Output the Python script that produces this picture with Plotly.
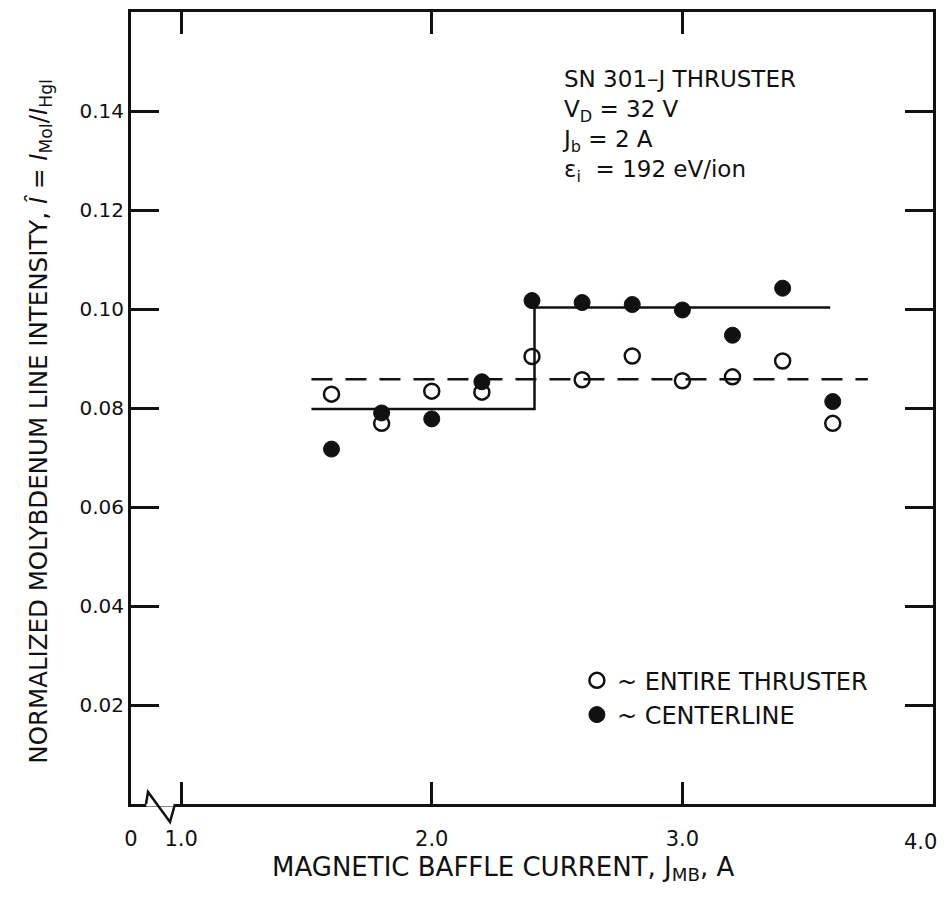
import plotly.graph_objects as go

# ---- data ----
baffle_current = [1.6, 1.8, 2.0, 2.2, 2.4, 2.6, 2.8, 3.0, 3.2, 3.4, 3.6]
entire_thruster = [0.0828, 0.0769, 0.0834, 0.0832, 0.0904, 0.0857, 0.0905, 0.0855, 0.0863, 0.0895, 0.0769]
centerline = [0.0717, 0.0790, 0.0778, 0.0853, 0.1017, 0.1013, 0.1009, 0.0998, 0.0947, 0.1042, 0.0813]

step_x = [1.52, 2.41, 2.41, 3.59]
step_y = [0.0798, 0.0798, 0.1003, 0.1003]
dash_x = [1.52, 3.74]
dash_y = [0.0858, 0.0858]

x_tickvals = [0.8, 1.0, 2.0, 3.0, 4.0]
x_ticktext = ["0", "1.0", "2.0", "3.0", "4.0"]
y_tickvals = [0.02, 0.04, 0.06, 0.08, 0.10, 0.12, 0.14]
y_ticktext = ["0.02", "0.04", "0.06", "0.08", "0.10", "0.12", "0.14"]

info_lines = ["SN 301–J THRUSTER",
              "V<sub>D</sub> = 32 V",
              "J<sub>b</sub> = 2 A",
              "ε<sub>i</sub>  = 192 eV/ion"]
x_title = "MAGNETIC BAFFLE CURRENT, J<sub>MB</sub>, A"
y_title = "NORMALIZED MOLYBDENUM LINE INTENSITY, <i>Î</i> = <i>I</i><sub>MoI</sub>/<i>I</i><sub>HgI</sub>"

FONT = "DejaVu Sans"
BLACK = "#111111"

fig = go.Figure()

fig.add_trace(go.Scatter(x=step_x, y=step_y, mode="lines",
                         line=dict(color=BLACK, width=2.5), showlegend=False, hoverinfo="skip"))
fig.add_trace(go.Scatter(x=dash_x, y=dash_y, mode="lines",
                         line=dict(color=BLACK, width=2.5, dash="21px,13px"), showlegend=False, hoverinfo="skip"))
fig.add_trace(go.Scatter(x=baffle_current, y=entire_thruster, mode="markers",
                         name="~ ENTIRE THRUSTER", legendgroup="a",
                         marker=dict(symbol="circle-open", size=15, color=BLACK, line=dict(width=2.5, color=BLACK))))
fig.add_trace(go.Scatter(x=baffle_current, y=centerline, mode="markers",
                         name="~ CENTERLINE", legendgroup="b",
                         marker=dict(symbol="circle", size=16, color=BLACK, line=dict(width=1, color=BLACK))))

# axis break (zig-zag) near the origin, drawn in paper coordinates
fig.add_shape(type="line", xref="paper", yref="paper", x0=0.019, x1=0.054, y0=0, y1=0,
              line=dict(color="white", width=5), layer="above")
fig.add_shape(type="path", xref="paper", yref="paper",
              path="M 0.0187 0 L 0.0212 0.0152 L 0.0486 -0.0227 L 0.0549 0",
              line=dict(color=BLACK, width=2.5), layer="above")

# info block
fig.add_annotation(xref="paper", yref="paper", x=0.535, y=0.934, xanchor="left", yanchor="top",
                   align="left", showarrow=False, text="<br>".join(info_lines),
                   font=dict(family=FONT, size=23, color=BLACK))

# last x tick label sits just inside the right edge in the reference
fig.add_annotation(xref="x", yref="paper", x=4.0, y=0, xanchor="right", yanchor="top", yshift=-24,
                   xshift=6, showarrow=False, text=x_ticktext[-1],
                   font=dict(family=FONT, size=21, color=BLACK))

# axis titles
fig.add_annotation(xref="paper", yref="paper", x=0.4638, y=-0.082, xanchor="center", yanchor="middle",
                   showarrow=False, text=x_title, font=dict(family=FONT, size=26, color=BLACK))
fig.add_annotation(xref="paper", yref="paper", x=-0.1135, y=0.484, xanchor="center", yanchor="middle",
                   textangle=-90, showarrow=False, text=y_title,
                   font=dict(family=FONT, size=24.5, color=BLACK))

fig.update_layout(
    width=948, height=905,
    margin=dict(l=131, r=15, t=12, b=101, autoexpand=False),
    paper_bgcolor="white", plot_bgcolor="white",
    font=dict(family=FONT, color=BLACK),
    legend=dict(x=0.556, y=0.184, xanchor="left", yanchor="top",
                font=dict(family=FONT, size=24, color=BLACK),
                bgcolor="rgba(0,0,0,0)", tracegroupgap=0, traceorder="grouped"),
    xaxis=dict(
        range=[0.8, 4.0], showgrid=False, zeroline=False, automargin=False,
        showline=True, linewidth=3, linecolor=BLACK, mirror="allticks",
        ticks="inside", ticklen=22, tickwidth=2.5, tickcolor=BLACK,
        tickvals=x_tickvals, ticktext=x_ticktext[:-1] + [""], ticklabelstandoff=14,
        tickfont=dict(family=FONT, size=21, color=BLACK),
    ),
    yaxis=dict(
        range=[0, 0.16], showgrid=False, zeroline=False, automargin=False,
        showline=True, linewidth=3, linecolor=BLACK, mirror="allticks",
        ticks="inside", ticklen=28, tickwidth=2.5, tickcolor=BLACK,
        tickvals=y_tickvals, ticktext=y_ticktext, ticklabelstandoff=0,
        tickfont=dict(family=FONT, size=20, color=BLACK),
    ),
)

fig.write_html("out.html")
